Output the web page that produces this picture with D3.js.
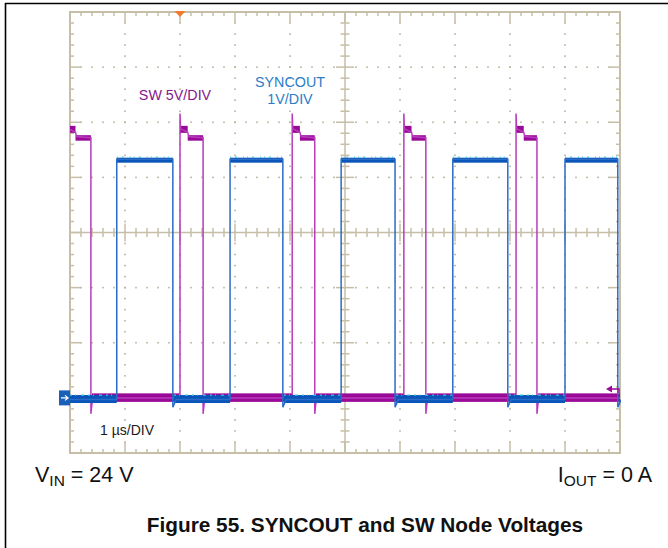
<!DOCTYPE html>
<html><head><meta charset="utf-8">
<script src="https://cdn.jsdelivr.net/npm/d3@7"></script>
<style>
body{margin:0;background:#fff}
svg{display:block}
text{font-family:"Liberation Sans",Arial,Helvetica,sans-serif}
</style>
</head><body>
<svg id="c" width="668" height="548"></svg>
<script>
// ---- data ----
const timeDomain = [0, 10];          // µs across screen, 1 µs/DIV
const divDomain = [-4, 4];           // vertical divisions
const groundDiv = -3;                // both channel grounds
const swVoltsPerDiv = 5;
const syncVoltsPerDiv = 1;
const triggerTime = 2.0;             // µs, trigger marker
const triggerLevelV = 0.8;           // SW trigger level marker (V)

// SW node (purple) edges, µs
const swRise = [-0.04, 2.00, 4.04, 6.07, 8.11];
const swFall = [0.38, 2.42, 4.45, 6.47, 8.49];
const swPeak = 25.8;                 // V, ringing spike at rising edge
const swPlateau = [[0.01, 24.4], [0.14, 24.1], [0.16, 23.7]]; // [µs after rise, V]
const swHigh = 23.6;
const swLow = 0.0;
const swUndershoot = -1.45;

// SYNCOUT (blue) edges, µs
const syncRise = [0.85, 2.91, 4.93, 6.96, 9.00];
const syncFall = [1.87, 3.87, 5.91, 7.96, 9.96];
const syncHigh = 4.33;
const syncLow = -0.03;
const syncUndershoot = -0.17;

// labels
const swLabel = "SW 5V/DIV";
const syncLabel = ["SYNCOUT", "1V/DIV"];
const timeLabel = "1 \u00b5s/DIV";
const title = "Figure 55. SYNCOUT and SW Node Voltages";

// ---- layout ----
const svg = d3.select("#c");
const x = d3.scaleLinear().domain(timeDomain).range([70, 620]);
const y = d3.scaleLinear().domain(divDomain).range([453, 12]);
const swY = v => y(groundDiv + v / swVoltsPerDiv);
const syY = v => y(groundDiv + v / syncVoltsPerDiv);

const gridCol = "#c6bea6", dotCol = "#b9b198";

// outer page frame
svg.append("line").attr("x1", 5).attr("x2", 668).attr("y1", 3.5).attr("y2", 3.5).attr("stroke", "#000").attr("stroke-width", 1.6);
svg.append("line").attr("x1", 5.5).attr("x2", 5.5).attr("y1", 3).attr("y2", 548).attr("stroke", "#000").attr("stroke-width", 1.6);

const g = svg.append("g");
const majorX = d3.range(timeDomain[0], timeDomain[1] + 0.001, 1);
const majorY = d3.range(divDomain[0], divDomain[1] + 0.001, 1);
const minorX = d3.range(timeDomain[0], timeDomain[1] + 0.001, 0.2);
const minorY = d3.range(divDomain[0], divDomain[1] + 0.001, 0.2);

// dotted grid
majorX.slice(1, -1).filter(t => t !== 5).forEach(t => {
  minorY.forEach(d => g.append("rect").attr("x", x(t) - 0.8).attr("y", y(d) - 0.8).attr("width", 1.6).attr("height", 1.6).attr("fill", dotCol));
});
majorY.slice(1, -1).filter(d => d !== 0).forEach(d => {
  minorX.forEach(t => g.append("rect").attr("x", x(t) - 0.8).attr("y", y(d) - 0.8).attr("width", 1.6).attr("height", 1.6).attr("fill", dotCol));
});

// frame
g.append("rect").attr("x", x(0)).attr("y", y(4)).attr("width", x(10) - x(0)).attr("height", y(-4) - y(4))
  .attr("fill", "none").attr("stroke", gridCol).attr("stroke-width", 2);
// center axes
g.append("line").attr("x1", x(5)).attr("x2", x(5)).attr("y1", y(4)).attr("y2", y(-4)).attr("stroke", gridCol).attr("stroke-width", 1.5);
g.append("line").attr("x1", x(0)).attr("x2", x(10)).attr("y1", y(0)).attr("y2", y(0)).attr("stroke", gridCol).attr("stroke-width", 1.5);

const isMajor = v => Math.abs(v - Math.round(v)) < 1e-6;
minorX.forEach(t => {
  const L = isMajor(t) ? 11 : 4;
  g.append("line").attr("x1", x(t)).attr("x2", x(t)).attr("y1", y(4)).attr("y2", y(4) + L).attr("stroke", gridCol).attr("stroke-width", 1.5);
  g.append("line").attr("x1", x(t)).attr("x2", x(t)).attr("y1", y(-4)).attr("y2", y(-4) - L).attr("stroke", gridCol).attr("stroke-width", 1.5);
  const c = isMajor(t) ? 9 : 4.5;
  g.append("line").attr("x1", x(t)).attr("x2", x(t)).attr("y1", y(0) - c).attr("y2", y(0) + c).attr("stroke", gridCol).attr("stroke-width", 1.5);
});
minorY.forEach(d => {
  const L = isMajor(d) ? 11 : 4;
  g.append("line").attr("y1", y(d)).attr("y2", y(d)).attr("x1", x(0)).attr("x2", x(0) + L).attr("stroke", gridCol).attr("stroke-width", 1.5);
  g.append("line").attr("y1", y(d)).attr("y2", y(d)).attr("x1", x(10)).attr("x2", x(10) - L).attr("stroke", gridCol).attr("stroke-width", 1.5);
  const c = isMajor(d) ? 9 : 4.5;
  g.append("line").attr("y1", y(d)).attr("y2", y(d)).attr("x1", x(5) - c).attr("x2", x(5) + c).attr("stroke", gridCol).attr("stroke-width", 1.5);
});

// clip
svg.append("clipPath").attr("id", "clip").append("rect")
  .attr("x", x(0)).attr("y", 0).attr("width", x(10) - x(0) + 1).attr("height", 548);

const traces = svg.append("g").attr("clip-path", "url(#clip)");
const line = d3.line().x(p => x(p[0])).curve(d3.curveLinear);

// ---- SW trace ----
const swPts = [];
swRise.forEach((r, i) => {
  const f = swFall[i];
  swPts.push([r, swLow], [r, swPeak]);
  swPlateau.forEach(p => swPts.push([r + p[0], p[1]]));
  swPts.push([f, swHigh], [f, swUndershoot], [f + 0.03, swLow]);
  const nr = i + 1 < swRise.length ? swRise[i + 1] : timeDomain[1];
  swPts.push([nr, swLow]);
});
const swCol = "#990a99", swEdge = "#b83cbc";
swRise.forEach((r, i) => {
  const f = swFall[i];
  const nr = i + 1 < swRise.length ? swRise[i + 1] : timeDomain[1];
  traces.append("rect").attr("x", x(f + 0.02)).attr("width", x(nr) - x(f + 0.02))
    .attr("y", swY(swLow) - 4.5).attr("height", 8.5).attr("fill", swCol);
  traces.append("rect").attr("x", x(r)).attr("width", x(r + swPlateau[1][0]) - x(r))
    .attr("y", swY(swPlateau[0][1]) - 3).attr("height", 7).attr("fill", swCol);
  traces.append("rect").attr("x", x(r + swPlateau[1][0])).attr("width", x(f) - x(r + swPlateau[1][0]))
    .attr("y", swY(swHigh) - 2.5).attr("height", 5.5).attr("fill", swCol);
});
traces.append("path").attr("d", line.y(p => swY(p[1]))(swPts))
  .attr("fill", "none").attr("stroke", swEdge).attr("stroke-width", 1.5);

// ---- SYNCOUT trace ----
const syPts = [[timeDomain[0], syncLow]];
syncRise.forEach((r, i) => {
  const f = syncFall[i];
  syPts.push([r, syncLow], [r, syncHigh], [f, syncHigh], [f, syncUndershoot], [f + 0.06, syncLow]);
});
const syCol = "#0a55b8", syEdge = "#2a6cc8", syNoise = "#3cc8e0";
let prevEnd = timeDomain[0];
syncRise.forEach((r, i) => {
  const f = syncFall[i];
  traces.append("rect").attr("x", x(prevEnd)).attr("width", x(r) - x(prevEnd))
    .attr("y", syY(syncLow) - 4.5).attr("height", 8).attr("fill", syCol);
  traces.append("line").attr("x1", x(prevEnd)).attr("x2", x(r)).attr("y1", syY(syncLow) - 4.5).attr("y2", syY(syncLow) - 4.5)
    .attr("stroke", syNoise).attr("stroke-width", 1.2).attr("stroke-dasharray", "2,3,1,5,3,4");
  traces.append("rect").attr("x", x(r)).attr("width", x(f) - x(r))
    .attr("y", syY(syncHigh) - 1.5).attr("height", 5).attr("fill", syCol);
  traces.append("line").attr("x1", x(r)).attr("x2", x(f)).attr("y1", syY(syncHigh) - 2).attr("y2", syY(syncHigh) - 2)
    .attr("stroke", syNoise).attr("stroke-width", 1.2).attr("stroke-dasharray", "1,4,2,6,1,3");
  prevEnd = f + 0.02;
});
traces.append("path").attr("d", line.y(p => syY(p[1]))(syPts))
  .attr("fill", "none").attr("stroke", syEdge).attr("stroke-width", 1.5);

// ---- markers ----
const tx = x(triggerTime);
svg.append("path").attr("d", `M${tx - 5.5},${y(4) - 1}L${tx + 5.5},${y(4) - 1}L${tx},${y(4) + 5}Z`).attr("fill", "#f27a2a");
const gy = y(groundDiv);
svg.append("rect").attr("x", x(0) - 11).attr("y", gy - 7.5).attr("width", 11).attr("height", 15).attr("fill", "#1a5fb8");
svg.append("path").attr("d", `M${x(0) - 9},${gy}L${x(0) - 2},${gy}M${x(0) - 5},${gy - 2.5}L${x(0) - 2},${gy}L${x(0) - 5},${gy + 2.5}`)
  .attr("stroke", "#fff").attr("stroke-width", 1.3).attr("fill", "none");
const ty = swY(triggerLevelV);
svg.append("path").attr("d", `M${x(10) - 10},${ty}L${x(10) - 1},${ty}L${x(10) - 1},${ty + 4}`)
  .attr("stroke", "#990a99").attr("stroke-width", 1.4).attr("fill", "none");
svg.append("path").attr("d", `M${x(10) - 14},${ty}L${x(10) - 8},${ty - 3.5}L${x(10) - 8},${ty + 3.5}Z`).attr("fill", "#990a99");

// ---- labels ----
svg.append("text").attr("x", 175).attr("y", 100).attr("text-anchor", "middle")
  .attr("font-size", 14.3).attr("fill", "#85188a").text(swLabel);
svg.append("text").attr("x", 290).attr("y", 87).attr("text-anchor", "middle")
  .attr("font-size", 14.3).attr("fill", "#2a7dc8").text(syncLabel[0]);
svg.append("text").attr("x", 290).attr("y", 103.5).attr("text-anchor", "middle")
  .attr("font-size", 14.3).attr("fill", "#2a7dc8").text(syncLabel[1]);
svg.append("text").attr("x", 100).attr("y", 435).attr("font-size", 14).attr("fill", "#1a1a1a").text(timeLabel);

const vin = svg.append("text").attr("x", 35).attr("y", 482).attr("font-size", 21.5).attr("fill", "#111");
vin.append("tspan").text("V");
vin.append("tspan").attr("font-size", 15.5).attr("dy", 3.5).text("IN");
vin.append("tspan").attr("dy", -3.5).text(" = 24 V");

const iout = svg.append("text").attr("x", 652).attr("y", 482).attr("text-anchor", "end").attr("font-size", 21.5).attr("fill", "#111");
iout.append("tspan").text("I");
iout.append("tspan").attr("font-size", 15.5).attr("dy", 3.5).text("OUT");
iout.append("tspan").attr("dy", -3.5).text(" = 0 A");

svg.append("text").attr("x", 365).attr("y", 532).attr("text-anchor", "middle")
  .attr("font-size", 20.8).attr("font-weight", "bold").attr("fill", "#111").text(title);
</script>
</body></html>
